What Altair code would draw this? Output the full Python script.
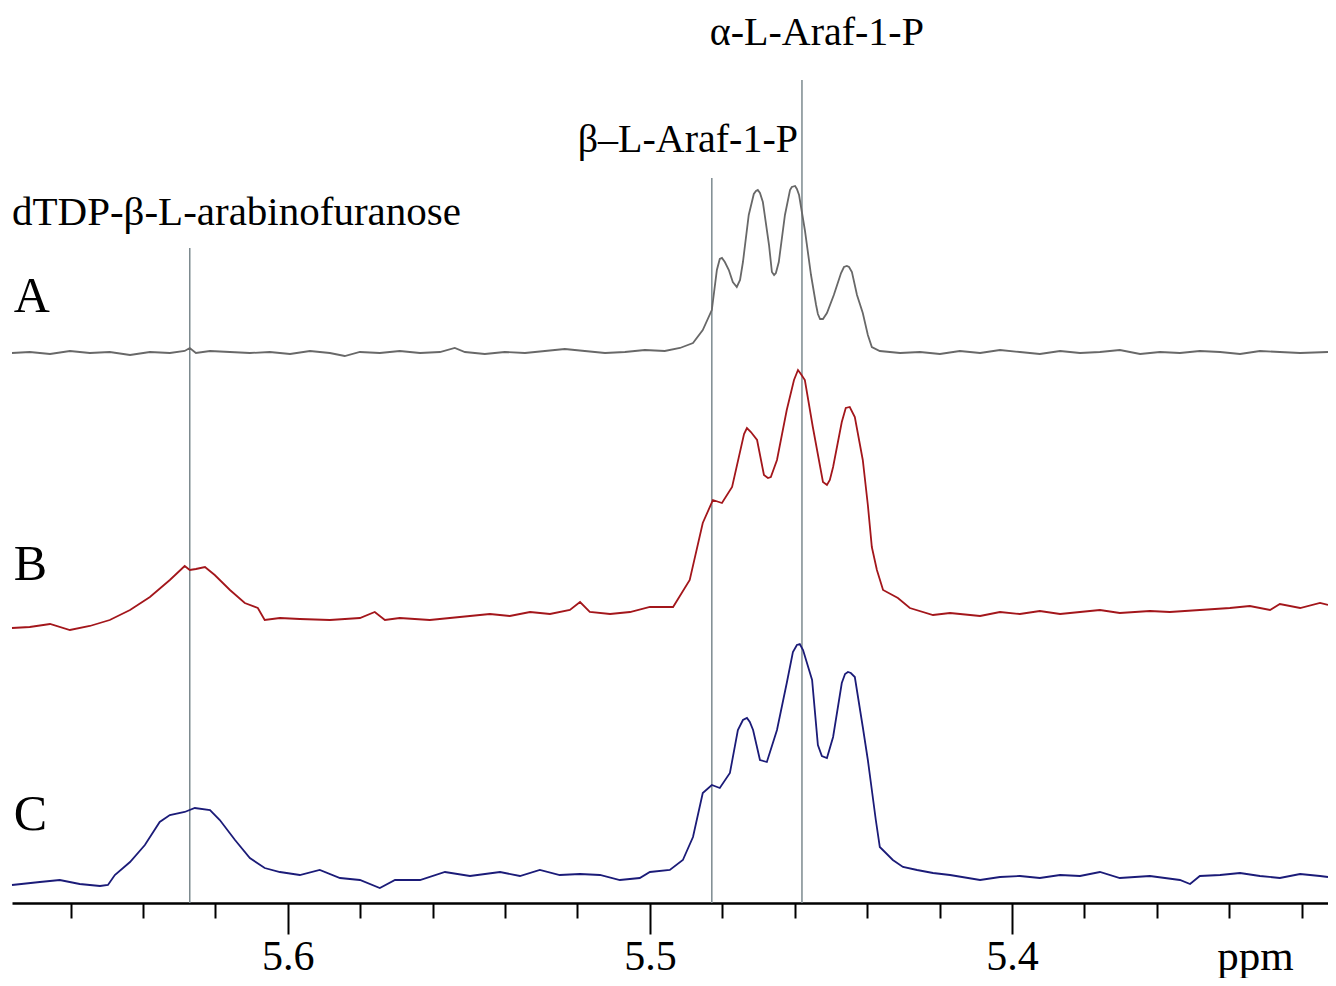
import altair as alt
import pandas as pd

# ---------------- data ----------------
# Trace A (grey): chemical shift (ppm) and intensity above its own baseline
A_ppm = [5.6762, 5.6713, 5.6657, 5.6602, 5.6547, 5.6492, 5.6436, 5.6381, 5.6326, 5.6285,
         5.6271, 5.6254, 5.6215, 5.6160, 5.6105, 5.6050, 5.5994, 5.5939, 5.5884, 5.5843,
         5.5801, 5.5746, 5.5691, 5.5635, 5.5580, 5.5539, 5.5511, 5.5456, 5.5401, 5.5345,
         5.5290, 5.5235, 5.5180, 5.5124, 5.5069, 5.5014, 5.4959, 5.4917, 5.4881, 5.4854,
         5.4829, 5.4815, 5.4807, 5.4801, 5.4793, 5.4782, 5.4771, 5.4760, 5.4751, 5.4743,
         5.4727, 5.4713, 5.4707, 5.4702, 5.4696, 5.4688, 5.4671, 5.4663, 5.4657, 5.4652,
         5.4644, 5.4627, 5.4613, 5.4608, 5.4599, 5.4594, 5.4588, 5.4572, 5.4555, 5.4541,
         5.4536, 5.4530, 5.4522, 5.4511, 5.4492, 5.4472, 5.4464, 5.4456, 5.4450, 5.4442,
         5.4428, 5.4412, 5.4398, 5.4387, 5.4365, 5.4309, 5.4254, 5.4199, 5.4144, 5.4088,
         5.4033, 5.3978, 5.3923, 5.3867, 5.3812, 5.3757, 5.3702, 5.3646, 5.3591, 5.3536,
         5.3481, 5.3425, 5.3370, 5.3315, 5.3260, 5.3204, 5.3127]
A_int = [-1, 0, -2, 1, -1, 0, -3, 0, -1, 1,
         4, -1, 1, 0, -1, 0, -2, 1, -1, -4,
         0, -1, 1, -1, 0, 4, 0, -2, 0, -1,
         1, 3, 1, -1, 0, 2, 1, 4, 9, 22,
         42, 82, 93, 94, 90, 82, 70, 65, 72, 90,
         137, 158, 161, 162, 159, 150, 107, 80, 77, 79,
         90, 137, 162, 165, 166, 163, 157, 122, 77, 47,
         38, 33, 33, 39, 57, 79, 85, 86, 85, 80,
         57, 39, 17, 5, 1, -1, 0, -2, 1, -1,
         2, 0, -2, 1, -1, 0, 2, -2, 0, -1,
         1, 0, -2, 1, 0, -1, 0]

# Trace B (red)
B_ppm = [5.6762, 5.6713, 5.6657, 5.6602, 5.6547, 5.6492, 5.6436, 5.6381, 5.6326, 5.6285,
         5.6271, 5.6254, 5.6229, 5.6202, 5.6160, 5.6119, 5.6083, 5.6064, 5.6022, 5.5967,
         5.5884, 5.5801, 5.5760, 5.5732, 5.5691, 5.5608, 5.5525, 5.5442, 5.5387, 5.5331,
         5.5276, 5.5221, 5.5193, 5.5166, 5.5110, 5.5055, 5.5000, 5.4936, 5.4890, 5.4854,
         5.4826, 5.4801, 5.4773, 5.4740, 5.4732, 5.4721, 5.4704, 5.4685, 5.4674, 5.4666,
         5.4649, 5.4622, 5.4602, 5.4591, 5.4583, 5.4572, 5.4550, 5.4522, 5.4511, 5.4503,
         5.4494, 5.4470, 5.4459, 5.4448, 5.4434, 5.4412, 5.4398, 5.4387, 5.4373, 5.4356,
         5.4315, 5.4282, 5.4218, 5.4171, 5.4088, 5.4033, 5.3978, 5.3923, 5.3867, 5.3812,
         5.3757, 5.3702, 5.3619, 5.3564, 5.3481, 5.3398, 5.3343, 5.3287, 5.3260, 5.3204,
         5.3149, 5.3127]
B_int = [-8, -7, -4, -10, -6, 0, 10, 23, 40, 54,
         50, 51, 53, 45, 30, 17, 12, 0, 2, 1,
         0, 2, 8, 0, 2, 0, 3, 6, 4, 8,
         6, 10, 18, 8, 6, 8, 13, 13, 40, 97,
         120, 117, 133, 186, 192, 188, 180, 145, 142, 143,
         160, 210, 240, 250, 246, 240, 193, 138, 135, 140,
         153, 198, 212, 213, 203, 160, 115, 73, 50, 30,
         22, 12, 5, 7, 4, 8, 6, 9, 6, 8,
         10, 7, 9, 8, 10, 12, 14, 10, 16, 12,
         17, 15]

# Trace C (navy)
C_ppm = [5.6762, 5.6685, 5.6630, 5.6575, 5.6519, 5.6497, 5.6478, 5.6436, 5.6395, 5.6354,
         5.6326, 5.6285, 5.6257, 5.6215, 5.6188, 5.6146, 5.6105, 5.6064, 5.6022, 5.5967,
         5.5912, 5.5856, 5.5801, 5.5746, 5.5704, 5.5635, 5.5566, 5.5497, 5.5414, 5.5359,
         5.5304, 5.5249, 5.5193, 5.5138, 5.5083, 5.5028, 5.5000, 5.4945, 5.4909, 5.4881,
         5.4854, 5.4829, 5.4807, 5.4779, 5.4757, 5.4743, 5.4732, 5.4724, 5.4715, 5.4696,
         5.4677, 5.4649, 5.4622, 5.4605, 5.4594, 5.4586, 5.4577, 5.4552, 5.4536, 5.4525,
         5.4511, 5.4494, 5.4470, 5.4461, 5.4453, 5.4445, 5.4434, 5.4412, 5.4398, 5.4387,
         5.4376, 5.4365, 5.4329, 5.4301, 5.4262, 5.4218, 5.4171, 5.4088, 5.4033, 5.3978,
         5.3923, 5.3867, 5.3812, 5.3757, 5.3702, 5.3619, 5.3536, 5.3508, 5.3481, 5.3425,
         5.3370, 5.3315, 5.3260, 5.3204, 5.3149, 5.3127]
C_int = [-5, -2, 0, -4, -6, -5, 5, 18, 35, 58,
         65, 68, 72, 70, 60, 40, 22, 12, 8, 5,
         10, 2, 0, -8, 0, 0, 8, 4, 8, 4,
         10, 5, 6, 5, 0, 2, 8, 10, 20, 43,
         87, 95, 92, 107, 150, 160, 162, 158, 150, 120,
         118, 150, 197, 228, 235, 236, 230, 200, 135, 124,
         122, 143, 197, 206, 208, 207, 203, 153, 120, 90,
         60, 33, 20, 13, 10, 7, 5, 0, 3, 4,
         2, 5, 4, 8, 2, 4, 0, -4, 4, 5,
         7, 4, 2, 6, 4, 3]

# vertical offsets of the stacked spectra
series_names = ["A", "B", "C"]
series_offsets = [551, 283, 23]
series_colors = ["#686868", "#a3161b", "#1b1b78"]

# reference lines (ppm) and their top ends
ref_ppm = [5.6271, 5.4829, 5.4580]
ref_top = [655, 725, 823]

# annotations
ann_text = ["dTDP-β-L-arabinofuranose", "β–L-Araf-1-P", "α-L-Araf-1-P"]
ann_ppm = [5.6762, 5.4591, 5.4539]
ann_y = [690, 763, 870]
ann_align = ["left", "right", "center"]
ann_size = [41, 40, 40]

letter_ppm = 5.6757
letter_y = [606, 338, 88]

tick_values = [5.66, 5.64, 5.62, 5.60, 5.58, 5.56, 5.54, 5.52, 5.50, 5.48, 5.46,
               5.44, 5.42, 5.40, 5.38, 5.36, 5.34, 5.32]
x_domain = [5.6762, 5.3127]

# ---------------- tables ----------------
rows = []
for name, off, xs, ys in zip(series_names, series_offsets, [A_ppm, B_ppm, C_ppm], [A_int, B_int, C_int]):
    for p, v in zip(xs, ys):
        rows.append({"ppm": p, "val": v + off, "series": name})
spec = pd.DataFrame(rows).sort_values(["series", "ppm"], ascending=[True, False]).reset_index(drop=True)
spec["order"] = range(len(spec))

refs = pd.DataFrame({"ppm": ref_ppm, "top": ref_top, "bottom": [0] * 3})
ann = pd.DataFrame({"ppm": ann_ppm, "y": ann_y, "label": ann_text, "align": ann_align, "size": ann_size})
letters = pd.DataFrame({"ppm": [letter_ppm] * 3, "y": letter_y, "label": series_names})

is_major = "abs(datum.value*10 - round(datum.value*10)) < 0.001"

xscale = alt.Scale(domain=x_domain, nice=False, zero=False)
yscale = alt.Scale(domain=[0, 893], nice=False, zero=False)

x_axis = alt.Axis(
    values=tick_values,
    labelExpr=f"{is_major} ? format(datum.value, '.1f') : ''",
    tickSize={"condition": {"test": is_major, "value": 31}, "value": 15},
    tickColor="black", tickWidth=2, domainColor="black", domainWidth=2.5,
    labelFont="Liberation Serif", labelFontSize=42, labelColor="black",
    labelBaseline="top", labelPadding=2,
    labelFlush=False, labelOverlap=False, grid=False,
    title="ppm", titleFont="Liberation Serif", titleFontSize=43,
    titleFontWeight="normal", titleColor="black", titleX=1243, titleY=66,
    titleAlign="center", titleBaseline="alphabetic", titleAngle=0,
)

rules = alt.Chart(refs).mark_rule(color="#7c8a8f", strokeWidth=1.5).encode(
    x=alt.X("ppm:Q", scale=xscale, axis=x_axis),
    y=alt.Y("bottom:Q", scale=yscale, axis=None),
    y2="top:Q",
)

lines = alt.Chart(spec).mark_line(strokeWidth=1.8).encode(
    x=alt.X("ppm:Q", scale=xscale),
    y=alt.Y("val:Q", scale=yscale, axis=None),
    color=alt.Color("series:N", scale=alt.Scale(domain=series_names, range=series_colors), legend=None),
    order="order:Q",
)

ann_marks = []
for al in ["left", "right", "center"]:
    sub = ann[ann["align"] == al]
    ann_marks.append(
        alt.Chart(sub).mark_text(
            align=al, baseline="middle", font="Liberation Serif",
            fontSize=int(sub["size"].iloc[0]), color="black"
        ).encode(x=alt.X("ppm:Q", scale=xscale), y=alt.Y("y:Q", scale=yscale), text="label:N")
    )

letter_marks = alt.Chart(letters).mark_text(
    align="left", baseline="middle", font="Liberation Serif", fontSize=50, color="black"
).encode(x=alt.X("ppm:Q", scale=xscale), y=alt.Y("y:Q", scale=yscale), text="label:N")

chart = alt.layer(rules, lines, *ann_marks, letter_marks).properties(
    width=1316, height=893,
    autosize=alt.AutoSizeParams(type="none"),
    padding={"left": 4, "top": 2, "right": 0, "bottom": 75},
    background="white",
).configure_view(stroke=None)

chart.save("out.html", embed_options={"renderer": "svg", "actions": False})
